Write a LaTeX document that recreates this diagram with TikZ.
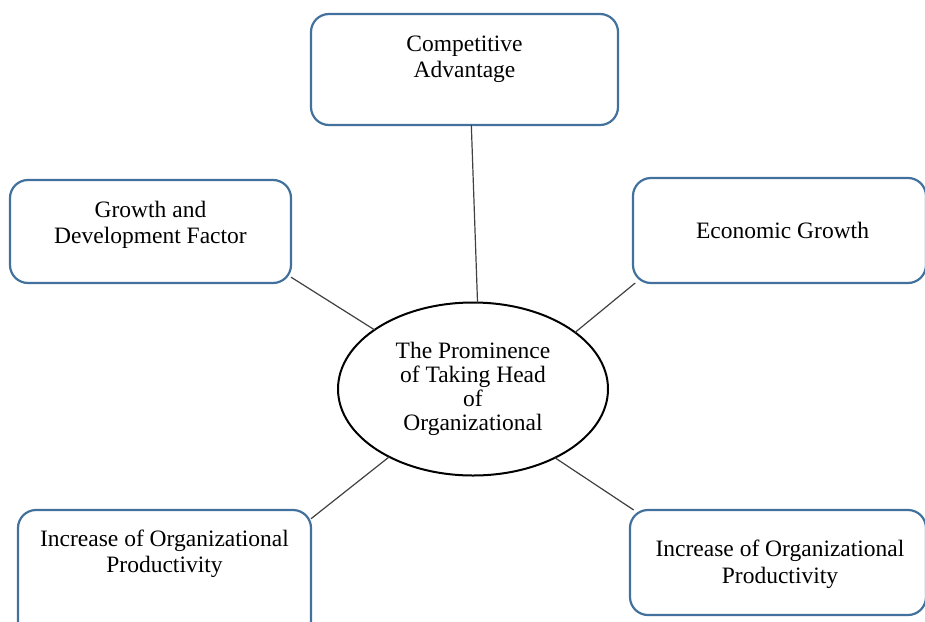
\documentclass[tikz,border=0pt]{standalone}
\usepackage{fontspec}
\setmainfont{Liberation Serif}
\usetikzlibrary{shapes.geometric}
\definecolor{boxblue}{HTML}{41719C}
\definecolor{linegray}{HTML}{404040}
\begin{document}
\begin{tikzpicture}[
  x=1pt, y=-1pt,
  box/.style = {shape=rectangle, rounded corners=18pt, draw=boxblue,
    line width=2.2pt, inner sep=0pt, outer sep=0pt},
  txt/.style = {align=center, inner sep=0pt,
    font=\fontsize{23.5}{26.5}\selectfont},
  hub/.style = {shape=ellipse, draw=black, line width=2pt, inner sep=0pt,
    outer sep=0pt, align=center, minimum width=270pt, minimum height=173pt,
    font=\fontsize{23.5}{24}\selectfont},
  link/.style = {draw=linegray, line width=1.2pt}
  ]
  \useasboundingbox (0,0) rectangle (925,621);
  % centre
  \node[hub] (hub) at (473,389) {The Prominence\\of Taking Head\\of\\Organizational};
  % boxes
  \node[box, minimum width=307pt, minimum height=111pt] (cbox) at (464.5,69.5) {};
  \node[box, minimum width=281pt, minimum height=103pt] (gbox) at (150.5,231.5) {};
  \node[box, minimum width=293pt, minimum height=105pt] (ebox) at (779.5,230.5) {};
  \node[box, minimum width=293pt, minimum height=130pt] (lbox) at (164.5,575) {};
  \node[box, minimum width=296pt, minimum height=105pt] (rbox) at (778,562.5) {};
  % texts
  \node[txt] (ctext) at ([yshift=10pt]cbox) {Competitive\\Advantage};
  \node[txt] (gtext) at ([yshift=6.5pt]gbox) {Growth and\\Development Factor};
  \node[txt] (etext) at ([xshift=3pt]ebox) {Economic Growth};
  \node[txt] (ltext) at ([yshift=21pt]lbox) {Increase of Organizational\\Productivity};
  \node[txt] (rtext) at ([xshift=2pt,yshift=-2pt]rbox) {Increase of Organizational\\Productivity};
  % links
  \draw[link] (cbox.-83.3) -- (hub.87.4);
  \draw[link] (gbox.-18.3) -- (hub.149.8);
  \draw[link] (ebox.-160.1) -- (hub.29.3);
  \draw[link] (lbox.21.7) -- (hub.-141.3);
  \draw[link] (rbox.160.7) -- (hub.-40.1);
\end{tikzpicture}
\end{document}
